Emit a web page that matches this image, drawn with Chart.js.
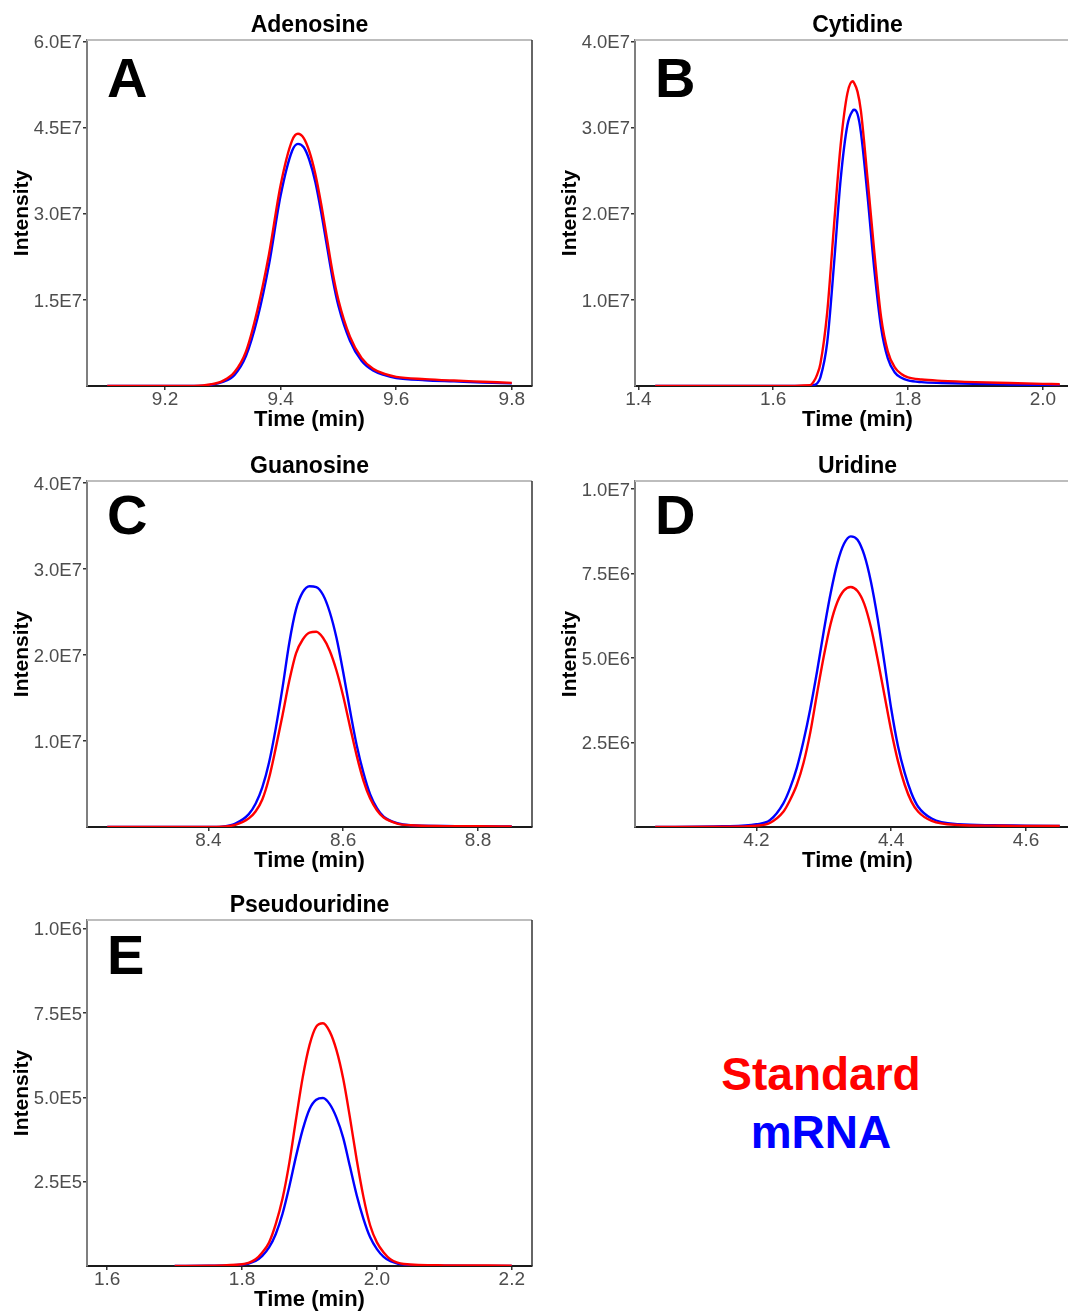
<!DOCTYPE html>
<html lang="en">
<head>
<meta charset="UTF-8">
<title>Nucleoside chromatograms</title>
<script src="https://cdn.jsdelivr.net/npm/chart.js"></script>
<style>
  html, body { margin: 0; padding: 0; background: #fff; }
  #page { position: relative; width: 1068px; height: 1313px; overflow: hidden; background: #fff; }
  #page canvas { position: absolute; }
  #key {
    position: absolute; left: 621px; top: 1045px; width: 400px;
    text-align: center; font: bold 46px "Liberation Sans", Arial, sans-serif; line-height: 58px;
  }
</style>
</head>
<body>
<div id="page">
  <canvas id="chartA" width="548" height="440" style="left:0;top:0"></canvas>
  <canvas id="chartB" width="548" height="440" style="left:548px;top:0"></canvas>
  <canvas id="chartC" width="548" height="440" style="left:0;top:441px"></canvas>
  <canvas id="chartD" width="548" height="440" style="left:548px;top:441px"></canvas>
  <canvas id="chartE" width="548" height="440" style="left:0;top:880px"></canvas>
  <div id="key">
    <div style="color:#ff0000">Standard</div>
    <div style="color:#0000ff">mRNA</div>
  </div>
</div>

<script>
const FONT = '"Liberation Sans", Arial, sans-serif';

// Adenosine
const timeA = [9.10, 9.20, 9.25, 9.28, 9.30, 9.32, 9.34, 9.36, 9.38, 9.40, 9.42, 9.43, 9.44, 9.45,
               9.46, 9.47, 9.48, 9.49, 9.50, 9.52, 9.54, 9.56, 9.58, 9.60, 9.65, 9.70, 9.75, 9.80];
const stdA  = [0, 0, 2e4, 3e5, 9e5, 2.4e6, 6.0e6, 1.33e7, 2.3e7, 3.5e7, 4.28e7, 4.395e7, 4.32e7, 4.08e7,
               3.7e7, 3.18e7, 2.58e7, 1.98e7, 1.5e7, 8.6e6, 4.9e6, 3.0e6, 2.1e6, 1.6e6, 1.2e6, 9.5e5, 7.5e5, 5.5e5];
const mrnaA = [0, 0, 1e4, 2e5, 7e5, 1.9e6, 5.2e6, 1.18e7, 2.12e7, 3.32e7, 4.1e7, 4.22e7, 4.16e7, 3.93e7,
               3.56e7, 3.04e7, 2.45e7, 1.87e7, 1.4e7, 7.9e6, 4.4e6, 2.7e6, 1.9e6, 1.4e6, 1.0e6, 8e5, 6e5, 4.5e5];
const xTicksA = [9.2, 9.4, 9.6, 9.8];
const yTicksA = [1.5e7, 3.0e7, 4.5e7, 6.0e7];

// Cytidine
const timeB = [1.425, 1.60, 1.655, 1.66, 1.665, 1.67, 1.68, 1.69, 1.70, 1.71, 1.718, 1.72, 1.725, 1.73,
               1.74, 1.75, 1.76, 1.77, 1.78, 1.79, 1.80, 1.82, 1.85, 1.90, 1.95, 2.00, 2.025];
const stdB  = [0, 0, 1e5, 5e5, 1.3e6, 2.6e6, 8.5e6, 1.85e7, 2.8e7, 3.4e7, 3.54e7, 3.52e7, 3.42e7, 3.2e7,
               2.4e7, 1.55e7, 8.0e6, 4.0e6, 2.2e6, 1.4e6, 1.0e6, 7.5e5, 6e5, 4.5e5, 3.5e5, 2.5e5, 2e5];
const mrnaB = [0, 0, 0, 1e5, 3e5, 1.0e6, 5.0e6, 1.4e7, 2.4e7, 3.03e7, 3.2e7, 3.21e7, 3.16e7, 2.95e7,
               2.2e7, 1.35e7, 6.8e6, 3.2e6, 1.6e6, 9.5e5, 6.5e5, 4.5e5, 3.5e5, 2.5e5, 1.8e5, 1.2e5, 1e5];
const xTicksB = [1.4, 1.6, 1.8, 2.0];
const yTicksB = [1.0e7, 2.0e7, 3.0e7, 4.0e7];

// Guanosine
const timeC = [8.25, 8.40, 8.42, 8.44, 8.46, 8.47, 8.48, 8.49, 8.50, 8.51, 8.52, 8.53, 8.54, 8.55, 8.56, 8.57,
               8.58, 8.59, 8.60, 8.61, 8.62, 8.63, 8.64, 8.65, 8.66, 8.68, 8.70, 8.75, 8.80, 8.85];
const stdC  = [0, 0, 3e4, 2.5e5, 1.0e6, 1.8e6, 3.2e6, 5.7e6, 9.2e6, 1.3e7, 1.7e7, 2.02e7, 2.18e7, 2.26e7, 2.27e7, 2.2e7,
               2.05e7, 1.82e7, 1.52e7, 1.17e7, 8.3e6, 5.4e6, 3.3e6, 1.95e6, 1.1e6, 4e5, 2e5, 1e5, 8e4, 5e4];
const mrnaC = [0, 0, 5e4, 4e5, 1.5e6, 2.7e6, 4.6e6, 7.5e6, 1.15e7, 1.62e7, 2.14e7, 2.53e7, 2.73e7, 2.8e7, 2.79e7, 2.7e7,
               2.5e7, 2.2e7, 1.8e7, 1.36e7, 9.5e6, 6.3e6, 3.8e6, 2.2e6, 1.2e6, 4.5e5, 2e5, 1.2e5, 8e4, 5e4];
const xTicksC = [8.4, 8.6, 8.8];
const yTicksC = [1.0e7, 2.0e7, 3.0e7, 4.0e7];

// Uridine
const timeD = [4.05, 4.15, 4.20, 4.22, 4.24, 4.25, 4.26, 4.27, 4.28, 4.29, 4.30, 4.31, 4.32, 4.33, 4.34,
               4.35, 4.36, 4.37, 4.38, 4.39, 4.40, 4.41, 4.42, 4.43, 4.44, 4.46, 4.50, 4.55, 4.60, 4.65];
const stdD  = [0, 1e4, 4e4, 1.2e5, 4.5e5, 8e5, 1.25e6, 1.9e6, 2.8e6, 3.95e6, 5.05e6, 6.0e6, 6.65e6, 7.0e6, 7.1e6,
               6.98e6, 6.6e6, 5.9e6, 4.95e6, 3.9e6, 2.85e6, 1.95e6, 1.25e6, 7.5e5, 4.5e5, 1.8e5, 6e4, 4e4, 3e4, 3e4];
const mrnaD = [0, 2e4, 8e4, 2e5, 7e5, 1.15e6, 1.75e6, 2.55e6, 3.5e6, 4.6e6, 5.8e6, 6.9e6, 7.8e6, 8.38e6, 8.6e6,
               8.5e6, 8.05e6, 7.25e6, 6.15e6, 4.85e6, 3.5e6, 2.4e6, 1.6e6, 1.0e6, 6e5, 2.5e5, 8e4, 5e4, 4e4, 3e4];
const xTicksD = [4.2, 4.4, 4.6];
const yTicksD = [2.5e6, 5.0e6, 7.5e6, 1.0e7];

// Pseudouridine
const timeE = [1.70, 1.75, 1.80, 1.82, 1.83, 1.84, 1.85, 1.86, 1.87, 1.88, 1.89, 1.90, 1.91, 1.92,
               1.93, 1.94, 1.95, 1.96, 1.97, 1.98, 1.99, 2.00, 2.01, 2.02, 2.04, 2.10, 2.20];
const stdE  = [0, 1e3, 5e3, 2e4, 4e4, 7e4, 1.25e5, 2.0e5, 3.05e5, 4.35e5, 5.6e5, 6.55e5, 7.1e5, 7.2e5,
               6.95e5, 6.4e5, 5.55e5, 4.4e5, 3.15e5, 2.05e5, 1.2e5, 7e4, 4e4, 2e4, 6e3, 2e3, 1e3];
const mrnaE = [0, 1e3, 4e3, 1.5e4, 3e4, 5.5e4, 9.5e4, 1.55e5, 2.35e5, 3.25e5, 4.05e5, 4.65e5, 4.93e5, 4.98e5,
               4.8e5, 4.4e5, 3.8e5, 2.95e5, 2.1e5, 1.4e5, 8.5e4, 5e4, 2.7e4, 1.4e4, 4e3, 1e3, 0];
const xTicksE = [1.6, 1.8, 2.0, 2.2];
const yTicksE = [2.5e5, 5.0e5, 7.5e5, 1.0e6];

const panels = [
  { id: 'chartA', title: 'Adenosine', letter: 'A', time: timeA, std: stdA, mrna: mrnaA,
    xTicks: xTicksA, yTicks: yTicksA, xMin: 9.065, xMax: 9.835, yMax: 6.03e7, letterDy: 57 },
  { id: 'chartB', title: 'Cytidine', letter: 'B', time: timeB, std: stdB, mrna: mrnaB,
    xTicks: xTicksB, yTicks: yTicksB, xMin: 1.395, xMax: 2.055, yMax: 4.02e7, letterDy: 57 },
  { id: 'chartC', title: 'Guanosine', letter: 'C', time: timeC, std: stdC, mrna: mrnaC,
    xTicks: xTicksC, yTicks: yTicksC, xMin: 8.22, xMax: 8.88, yMax: 4.023e7, letterDy: 53 },
  { id: 'chartD', title: 'Uridine', letter: 'D', time: timeD, std: stdD, mrna: mrnaD,
    xTicks: xTicksD, yTicks: yTicksD, xMin: 4.02, xMax: 4.68, yMax: 1.0237e7, letterDy: 53 },
  { id: 'chartE', title: 'Pseudouridine', letter: 'E', time: timeE, std: stdE, mrna: mrnaE,
    xTicks: xTicksE, yTicks: yTicksE, xMin: 1.57, xMax: 2.23, yMax: 1.026e6, letterDy: 54 }
];

// "6.0E7" style labels
function sci(v) {
  return v.toExponential(1).toUpperCase().replace('+', '');
}

// panel frame (top + right), panel title and big letter
const panelDecor = {
  id: 'panelDecor',
  afterDraw(chart, args, opts) {
    const { ctx, chartArea: a } = chart;
    ctx.save();
    ctx.strokeStyle = '#bdbdbd';
    ctx.lineWidth = 2;
    ctx.beginPath();
    ctx.moveTo(a.left, a.top);
    ctx.lineTo(a.right, a.top);
    ctx.stroke();
    ctx.strokeStyle = '#333333';
    ctx.lineWidth = 1.5;
    ctx.beginPath();
    ctx.moveTo(a.right, a.top);
    ctx.lineTo(a.right, a.bottom);
    ctx.stroke();

    ctx.fillStyle = '#000';
    ctx.textBaseline = 'alphabetic';
    ctx.textAlign = 'center';
    ctx.font = 'bold 23px ' + FONT;
    ctx.fillText(opts.title, (a.left + a.right) / 2, 32);
    ctx.textAlign = 'left';
    ctx.font = 'bold 56px ' + FONT;
    ctx.fillText(opts.letter, a.left + 20, a.top + opts.letterDy);
    ctx.restore();
  }
};

function makeChart(p) {
  const pts = arr => p.time.map((t, i) => ({ x: t, y: arr[i] }));
  const line = { pointRadius: 0, borderWidth: 2.4, cubicInterpolationMode: 'monotone', fill: false };

  return new Chart(document.getElementById(p.id), {
    type: 'line',
    data: {
      datasets: [
        Object.assign({ label: 'Standard', data: pts(p.std), borderColor: '#ff0000', order: 0 }, line),
        Object.assign({ label: 'mRNA', data: pts(p.mrna), borderColor: '#0000ff', order: 1 }, line)
      ]
    },
    options: {
      responsive: false,
      animation: false,
      devicePixelRatio: 1,
      events: [],
      layout: { padding: { top: 40, right: 16, left: 0, bottom: 0 } },
      plugins: {
        legend: { display: false },
        tooltip: { enabled: false },
        panelDecor: { title: p.title, letter: p.letter, letterDy: p.letterDy }
      },
      scales: {
        x: {
          type: 'linear',
          min: p.xMin,
          max: p.xMax,
          afterBuildTicks: s => { s.ticks = p.xTicks.map(v => ({ value: v })); },
          afterFit: s => { s.height = 54; },
          ticks: {
            autoSkip: false, maxRotation: 0, padding: 0.5, color: '#4d4d4d',
            font: { family: FONT, size: 19, lineHeight: 1 },
            callback: v => Number(v).toFixed(1)
          },
          grid: { drawOnChartArea: false, drawTicks: true, tickLength: 4, tickColor: '#333', lineWidth: 1.5 },
          border: { color: '#1a1a1a', width: 2 },
          title: {
            display: true, text: 'Time (min)', color: '#000',
            font: { family: FONT, size: 22, weight: 'bold' },
            padding: { top: 0, bottom: 6.5 }
          }
        },
        y: {
          min: 0,
          max: p.yMax,
          afterBuildTicks: s => { s.ticks = p.yTicks.map(v => ({ value: v })); },
          afterFit: s => { s.width = 87; },
          ticks: {
            autoSkip: false, padding: 1, labelOffset: 1.5, color: '#4d4d4d',
            font: { family: FONT, size: 18.5, lineHeight: 1 },
            callback: v => sci(Number(v))
          },
          grid: { drawOnChartArea: false, drawTicks: true, tickLength: 4, tickColor: '#333', lineWidth: 1.5 },
          border: { color: '#7f7f7f', width: 2 },
          title: {
            display: true, text: 'Intensity', color: '#000',
            font: { family: FONT, size: 21, weight: 'bold' },
            padding: { top: 9.6, bottom: 0 }
          }
        }
      }
    },
    plugins: [panelDecor]
  });
}

panels.forEach(makeChart);
</script>
</body>
</html>
